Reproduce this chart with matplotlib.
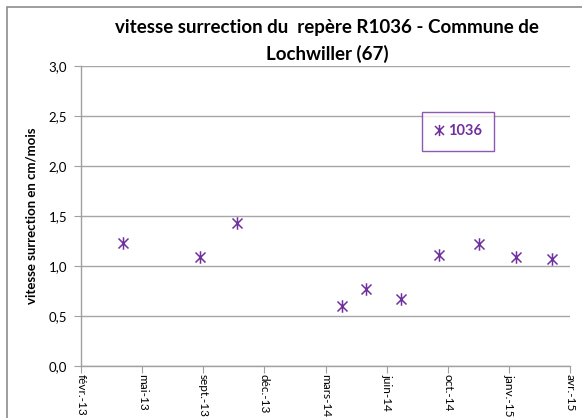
import numpy as np
import matplotlib
matplotlib.use("Agg")
import matplotlib.pyplot as plt
from matplotlib.path import Path
from matplotlib.patches import Rectangle

# ---- data ----
dates = ['2013-04-25', '2013-08-28', '2013-10-28', '2014-04-18', '2014-05-27',
         '2014-07-24', '2014-09-24', '2014-11-28', '2015-01-28', '2015-03-27']
values = [1.23, 1.09, 1.43, 0.60, 0.77, 0.67, 1.11, 1.22, 1.09, 1.07]
series_name = '1036'
tick_dates = ['2013-02-15', '2013-05-26', '2013-09-03', '2013-12-12', '2014-03-22',
              '2014-06-30', '2014-10-08', '2015-01-16', '2015-04-26']
tick_labels = ['févr.-13', 'mai-13', 'sept.-13', 'déc.-13', 'mars-14',
               'juin-14', 'oct.-14', 'janv.-15', 'avr.-15']
y_ticks = [0.0, 0.5, 1.0, 1.5, 2.0, 2.5, 3.0]
y_labels = ['0,0', '0,5', '1,0', '1,5', '2,0', '2,5', '3,0']
title = 'vitesse surrection du  repère R1036 - Commune de\nLochwiller (67)'
ylabel = 'vitesse surrection en cm/mois'

purple = '#7030A0'
font = 'Lato'

x = np.array(dates, dtype='datetime64[D]').astype('O')
xt = np.array(tick_dates, dtype='datetime64[D]').astype('O')

# Excel-like star marker: x with a vertical bar
star = Path([(-1, -1), (1, 1), (-1, 1), (1, -1), (0, -1.25), (0, 1.25)],
            [Path.MOVETO, Path.LINETO, Path.MOVETO, Path.LINETO, Path.MOVETO, Path.LINETO])

fig = plt.figure(figsize=(5.82, 4.18), dpi=100)
fig.patches.append(Rectangle((7 / 582, -0.1), 1.2, 1 - 7 / 418 + 0.1,
                             transform=fig.transFigure, fill=False,
                             edgecolor='#8c8c8c', linewidth=1.2))
ax = fig.add_axes([81 / 582, 1 - 366 / 418, (570 - 81) / 582, 300 / 418])

ax.plot(x, values, linestyle='none', marker=star, markersize=9,
        markeredgecolor=purple, markerfacecolor='none', markeredgewidth=1.1,
        label=series_name)

ax.set_ylim(0, 3.0)
ax.set_xlim(xt[0], xt[-1])
ax.set_yticks(y_ticks)
ax.set_yticklabels(y_labels, fontfamily=font, fontsize=9.5)
ax.set_xticks(xt)
ax.set_xticklabels(tick_labels, rotation=-90, fontfamily=font, fontsize=8.5)
ax.tick_params(axis='x', direction='out', length=5, color='#a0a0a0', pad=1)
ax.tick_params(axis='y', direction='out', length=5, color='#a0a0a0', pad=5)

ax.grid(axis='y', color='#a6a6a6', linewidth=1.0)
ax.set_axisbelow(True)
for s in ['top', 'right']:
    ax.spines[s].set_visible(False)
for s in ['left', 'bottom']:
    ax.spines[s].set_color('#a0a0a0')
    ax.spines[s].set_linewidth(1.0)

ax.set_ylabel(ylabel, fontfamily=font, fontweight='bold', fontsize=9.5, labelpad=8)
fig.text(327 / 582, 1 - 19 / 418, title, fontfamily=font, fontweight='bold',
         fontsize=13.5, ha='center', va='top', linespacing=1.6)

leg = ax.legend(loc='upper left', bbox_to_anchor=((422 - 81) / 489, (366 - 112) / 300),
                borderaxespad=0, frameon=True, fancybox=False, handlelength=0.6,
                handletextpad=0.3, borderpad=0.85, markerscale=0.9,
                prop={'family': font, 'weight': 'bold', 'size': 10.5})
leg.get_frame().set_edgecolor(purple)
leg.get_frame().set_linewidth(1.0)
for t in leg.get_texts():
    t.set_color(purple)

fig.savefig('out.png', dpi=100)
